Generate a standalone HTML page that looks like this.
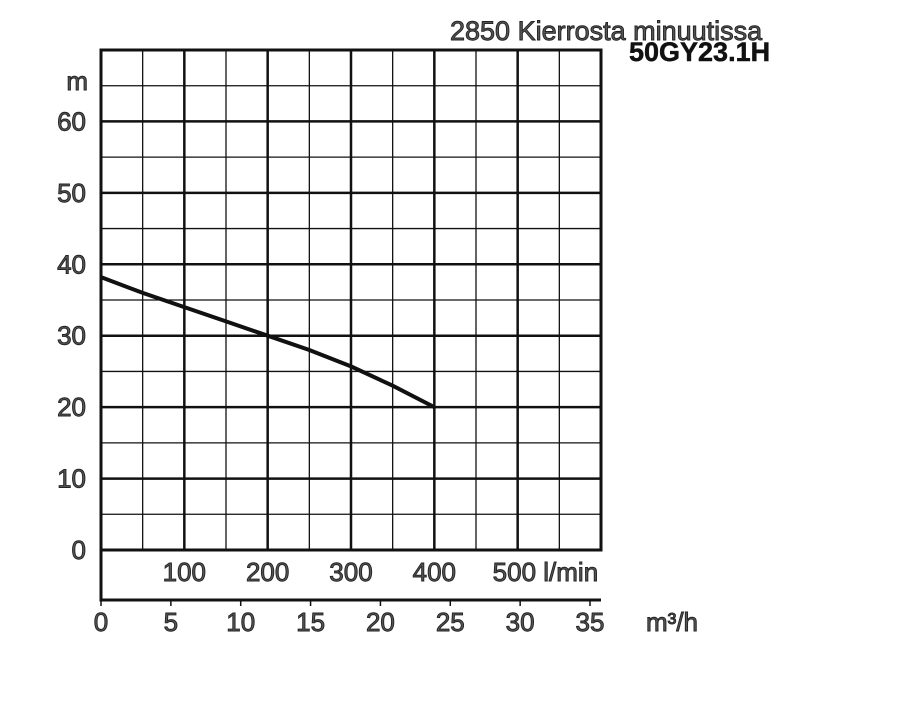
<!DOCTYPE html>
<html><head><meta charset="utf-8"><style>
body{margin:0;background:#fff;}
svg text{font-family:"Liberation Sans",sans-serif;}
</style></head><body>
<svg id="chart" width="900" height="700" xmlns="http://www.w3.org/2000/svg">
<text x="450" y="40" font-size="27" fill="#555" stroke="#222" stroke-width="0.9">2850 Kierrosta minuutissa</text>
<text x="629" y="61" font-size="27" font-weight="bold" fill="#111" stroke="#111" stroke-width="0.5">50GY23.1H</text>
<g id="grid"></g>
<g id="labels"></g>
<path id="curve" fill="none" stroke="#111" stroke-width="4"/>
</svg>
<script>
const flowLpm = [0, 50, 100, 150, 200, 250, 300, 350, 400];
const headM = [38.2, 36, 34, 32, 30, 28, 25.7, 23, 20];
const yTicks = [0, 10, 20, 30, 40, 50, 60];
const lpmTicks = [100, 200, 300, 400, 500];
const m3hTicks = [0, 5, 10, 15, 20, 25, 30, 35];

const X0 = 101, X1 = 601, Y0 = 550, Y1 = 50, BOT = 600;
const xL = v => X0 + v * (X1 - X0) / 600;
const xM = v => X0 + v * (590 - X0) / 35;
const y = v => Y0 - v * (Y0 - Y1) / 70;
const NS = "http://www.w3.org/2000/svg";
const grid = document.getElementById('grid');
const labels = document.getElementById('labels');
function line(x1, y1, x2, y2, w, name, parent) {
  const l = document.createElementNS(NS, 'line');
  l.setAttribute('x1', x1); l.setAttribute('y1', y1); l.setAttribute('x2', x2); l.setAttribute('y2', y2);
  l.setAttribute('stroke', '#111'); l.setAttribute('stroke-width', w);
  
  
  (parent || grid).appendChild(l);
}
function text(x, yy, s, anchor, size, name) {
  const t = document.createElementNS(NS, 'text');
  t.setAttribute('x', x); t.setAttribute('y', yy); t.setAttribute('text-anchor', anchor);
  t.setAttribute('font-size', size); t.setAttribute('fill', '#555'); t.setAttribute('stroke', '#222'); t.setAttribute('stroke-width', '0.9');
  t.textContent = s;
  
  
  labels.appendChild(t);
}
for (let i = 1; i < 12; i++) {
  const v = i * 50;
  line(xL(v), Y1, xL(v), Y0, i % 2 === 0 ? 2.5 : 1.3, 'vertical-gridline');
}
for (let h = 5; h < 70; h += 5) {
  line(X0, y(h), X1, y(h), h % 10 === 0 ? 2.5 : 1.3, 'horizontal-gridline');
}
line(X0, Y1, X1, Y1, 3, 'frame-top');
line(X0, Y1 - 1.5, X0, BOT + 1.5, 3, 'frame-left');
line(X1, Y1 - 1.5, X1, Y0 + 1.5, 3, 'frame-right');
line(X0, Y0, X1, Y0, 3, 'zero-line');
line(X0, BOT, X1, BOT, 3, 'frame-bottom');
yTicks.forEach(v => text(86, y(v) + 9, String(v), 'end', 26, 'y-tick-label'));
text(88, 90, 'm', 'end', 26, 'y-axis-unit');
lpmTicks.forEach((v, i) => text(xL(v), 581, i === lpmTicks.length - 1 ? v + ' l/min' : String(v), i === lpmTicks.length - 1 ? 'start' : 'middle', 26, 'lpm-tick-label'));
labels.lastChild.setAttribute('x', xL(500) - 25);
m3hTicks.forEach(v => {
  line(xM(v), BOT, xM(v), BOT + 6, 1.5, 'm3h-tick', labels);
  text(xM(v), 631, String(v), 'middle', 26, 'm3h-tick-label');
});
text(646, 631, 'm³/h', 'start', 26, 'm3h-axis-unit');
let d = '';
flowLpm.forEach((f, i) => { d += (i ? 'L' : 'M') + xL(f).toFixed(1) + ',' + y(headM[i]).toFixed(1); });
document.getElementById('curve').setAttribute('d', d);
</script>
</body></html>
